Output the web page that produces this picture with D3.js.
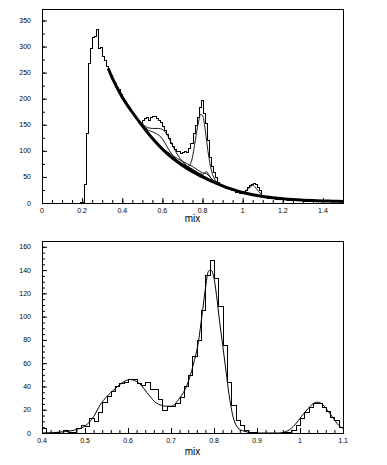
<!DOCTYPE html>
<html>
<head>
<meta charset="utf-8">
<script src="https://cdn.jsdelivr.net/npm/d3@7"></script>
<style>
  body { margin: 0; background: #fff; }
  svg { display: block; }
  text { font-family: "Liberation Sans", Arial, sans-serif; fill: #000; }
</style>
</head>
<body>
<svg id="chart" width="387" height="465"></svg>
<script>
// ---- top panel data (mix spectrum, 0.01 bins) ----
const topBinWidth = 0.01;
const topBinStart = 0.18;
const topCounts = [
  0, 1, 1, 36, 135, 269, 298, 318, 320, 333, 298, 300, 281, 275, 262,
  254, 246, 236, 231, 222, 218, 209, 201, 195, 188, 184, 176, 172, 166, 161,
  156, 152, 160, 163, 165, 160, 165, 166, 166, 163, 160, 156, 148, 140, 133,
  125, 115, 110, 103, 100, 100, 96, 97, 100, 98, 106, 115, 134, 149, 165,
  184, 197, 172, 153, 121, 89, 70, 60, 50, 41, 37, 33, 31, 29, 28,
  26, 25, 24, 22, 21, 20, 19, 21, 24, 30, 34, 37, 39, 37, 30,
  24, 16, 12, 11, 10, 10, 9, 9, 8, 8, 8, 7, 7, 7, 6,
  6, 6, 5, 5, 5, 5, 5, 4, 4, 4, 4, 4, 4, 3, 3,
  3, 3, 3, 3, 3, 3, 3, 3, 3, 3, 3, 3
];

// background curve (thick)
const bkgX = [0.33, 0.35, 0.40, 0.45, 0.50, 0.55, 0.60, 0.65, 0.70, 0.75, 0.80, 0.85, 0.90,
  0.95, 1.00, 1.05, 1.10, 1.15, 1.20, 1.25, 1.30, 1.35, 1.40, 1.45, 1.50];
const bkgY = [258, 240, 203, 174, 148, 124, 103, 86, 72, 60, 50, 41, 33,
  26, 20, 16, 12.5, 10, 8, 6.5, 5.5, 4.7, 4, 3.5, 3];

// thin component curves
const shoulderHiX = [0.40, 0.45, 0.50, 0.52, 0.55, 0.58, 0.60, 0.62, 0.64, 0.66, 0.68, 0.70, 0.72, 0.75, 0.80, 0.85];
const shoulderHiY = [204, 175, 152, 146, 143, 143, 141, 133, 119, 103, 90, 80, 72, 63, 52, 42];
const shoulderLoX = [0.40, 0.45, 0.50, 0.53, 0.57, 0.60, 0.62, 0.65, 0.68, 0.72, 0.76, 0.80, 0.85];
const shoulderLoY = [204, 175, 150, 140, 133, 123, 110, 92, 80, 70, 61, 52, 42];
const peakX = [0.65, 0.70, 0.72, 0.735, 0.75, 0.76, 0.77, 0.78, 0.79, 0.80, 0.81, 0.82, 0.83, 0.84, 0.85, 0.86, 0.88, 0.90];
const peakY = [86, 73, 69, 72, 88, 110, 135, 155, 170, 168, 150, 120, 92, 70, 55, 46, 38, 33];
const midAX = [0.55, 0.60, 0.65, 0.70, 0.75, 0.80, 0.82, 0.85, 0.90];
const midAY = [126, 106, 91, 80, 70, 58, 56, 45, 34];
const midBX = [0.55, 0.60, 0.65, 0.70, 0.75, 0.80, 0.82, 0.83, 0.85, 0.90];
const midBY = [125, 104, 88, 76, 65, 55, 60, 55, 43, 33];
const midCX = [0.55, 0.60, 0.65, 0.70, 0.75, 0.80, 0.85, 0.90];
const midCY = [124, 103, 87, 74, 63, 53, 42, 33];
const bumpX = [0.95, 1.00, 1.02, 1.04, 1.05, 1.06, 1.08, 1.10, 1.12];
const bumpY = [26, 21, 25, 31, 34, 31, 22, 14, 11];

const topXTicks = [0, 0.2, 0.4, 0.6, 0.8, 1, 1.2, 1.4];
const topYTicks = [0, 50, 100, 150, 200, 250, 300, 350];

// ---- bottom panel data (background subtracted, 0.01 bins) ----
const botBinWidth = 0.01;
const botBinStart = 0.40;
const botCounts = [
  4, 0, 0, 1, 0, 3, 1, 1, 4, 7,
  6, 13, 10, 18, 27, 32, 36, 40, 43, 44,
  46, 46, 43, 41, 44, 38, 38, 29, 20, 23,
  23, 26, 31, 40, 50, 66, 80, 106, 136, 149,
  133, 109, 76, 44, 24, 11, 7, 3, 1, 1,
  0, 0, 0, 0, 0, 0, 1, 1, 3, 7,
  13, 18, 22, 26, 26, 22, 19, 14, 11, 5
];
const fitX = [0.40, 0.45, 0.48, 0.50, 0.52, 0.535, 0.55, 0.57, 0.59, 0.605, 0.625, 0.65, 0.665, 0.69, 0.70,
  0.72, 0.737, 0.752, 0.764, 0.772, 0.78, 0.787, 0.793, 0.80, 0.806, 0.813, 0.82, 0.828, 0.835, 0.843,
  0.851, 0.866, 0.90, 0.95, 0.972, 0.988, 1.003, 1.019, 1.034, 1.042, 1.054, 1.065, 1.077, 1.089, 1.10];
const fitY = [0, 1, 3, 6, 14, 24, 31, 38, 44, 46, 43, 32, 26, 23, 23,
  30, 41, 59, 79, 101, 124, 139, 140, 133, 118, 96, 76, 53, 33, 16,
  7, 2, 0, 0, 2, 7, 14, 21, 26, 26.5, 24, 19, 13, 7, 4];

const botXTicks = [0.4, 0.5, 0.6, 0.7, 0.8, 0.9, 1, 1.1];
const botYTicks = [0, 20, 40, 60, 80, 100, 120, 140, 160];

const svg = d3.select("#chart");

function drawPanel(cfg) {
  const x = d3.scaleLinear().domain(cfg.xDomain).range([cfg.left, cfg.right]);
  const y = d3.scaleLinear().domain(cfg.yDomain).range([cfg.bottom, cfg.top]);
  const g = svg.append("g");

  // clip to frame
  const clipId = "clip" + cfg.name;
  svg.append("clipPath").attr("id", clipId)
    .append("rect")
    .attr("x", cfg.left).attr("y", cfg.top - 2)
    .attr("width", cfg.right - cfg.left).attr("height", cfg.bottom - cfg.top + 2);
  const plot = g.append("g").attr("clip-path", `url(#${clipId})`);

  // axes with inside ticks
  g.append("g").attr("transform", `translate(0,${cfg.bottom})`)
    .call(d3.axisTop(x).tickValues(cfg.xMinor).tickSize(cfg.minorLen).tickFormat(""));
  g.append("g").attr("transform", `translate(0,${cfg.bottom})`)
    .call(d3.axisTop(x).tickValues(cfg.xTicks).tickSize(cfg.majorLen).tickFormat(""));
  g.append("g").attr("transform", `translate(${cfg.left},0)`)
    .call(d3.axisRight(y).tickValues(cfg.yMinor).tickSize(cfg.minorLen).tickFormat(""));
  g.append("g").attr("transform", `translate(${cfg.left},0)`)
    .call(d3.axisRight(y).tickValues(cfg.yTicks).tickSize(cfg.majorLen).tickFormat(""));
  g.selectAll(".domain").remove();
  g.selectAll(".tick line").attr("stroke", "#000").attr("stroke-width", 1);

  // tick labels
  g.selectAll(".xlab").data(cfg.xTicks).enter().append("text")
    .attr("x", (d) => x(d)).attr("y", cfg.bottom + cfg.xLabelDy)
    .attr("text-anchor", "middle").style("font-size", "7px")
    .text((d) => d3.format("")(d));
  g.selectAll(".ylab").data(cfg.yTicks).enter().append("text")
    .attr("x", cfg.left - 11).attr("y", (d) => y(d) + 2.5)
    .attr("text-anchor", "end").style("font-size", "7px")
    .text((d) => d);

  // axis title
  g.append("text").attr("x", (cfg.left + cfg.right) / 2).attr("y", cfg.bottom + cfg.titleDy)
    .attr("text-anchor", "middle").style("font-size", "10px").text("mix");

  // frame
  g.append("rect")
    .attr("x", cfg.left + 0.5).attr("y", cfg.top + 0.5)
    .attr("width", cfg.right - cfg.left).attr("height", cfg.bottom - cfg.top)
    .attr("fill", "none").attr("stroke", "#000").attr("stroke-width", 1);

  return { x, y, plot };
}

function histPath(x, y, start, width, counts) {
  const px = (v) => Math.round(x(v)) + 0.5;
  const py = (v) => Math.round(y(v)) + 0.5;
  const pts = [[px(start), py(0)]];
  counts.forEach((c, i) => {
    pts.push([px(start + i * width), py(c)]);
    pts.push([px(start + (i + 1) * width), py(c)]);
  });
  pts.push([px(start + counts.length * width), py(0)]);
  return d3.line()(pts);
}

function smooth(x, y, xs, ys) {
  return d3.line().x((d) => x(d)).y((d, i) => y(ys[i])).curve(d3.curveMonotoneX)(xs);
}

// ---- top panel ----
const topMinor = d3.range(0, 31).map((i) => i * 0.05);
const topYMinor = d3.range(0, 15).map((i) => i * 25);
const topPanel = drawPanel({
  name: "top", left: 42, right: 343, top: 9, bottom: 203,
  xDomain: [0, 1.5], yDomain: [0, 372],
  xTicks: topXTicks, xMinor: topMinor, yTicks: topYTicks, yMinor: topYMinor,
  majorLen: 5, minorLen: 3, xLabelDy: 9.5, titleDy: 19
});

const thinCurves = [
  [shoulderHiX, shoulderHiY], [shoulderLoX, shoulderLoY], [peakX, peakY],
  [midAX, midAY], [midBX, midBY], [midCX, midCY], [bumpX, bumpY]
];
thinCurves.forEach(([xs, ys]) => {
  topPanel.plot.append("path").attr("d", smooth(topPanel.x, topPanel.y, xs, ys))
    .attr("fill", "none").attr("stroke", "#000").attr("stroke-width", 0.9);
});
topPanel.plot.append("path").attr("d", smooth(topPanel.x, topPanel.y, bkgX, bkgY))
  .attr("fill", "none").attr("stroke", "#000").attr("stroke-width", 3);
topPanel.plot.append("path")
  .attr("d", histPath(topPanel.x, topPanel.y, topBinStart, topBinWidth, topCounts))
  .attr("fill", "none").attr("stroke", "#000").attr("stroke-width", 1.2)
  .attr("shape-rendering", "crispEdges");

// ---- bottom panel ----
const botMinor = d3.range(0, 36).map((i) => 0.4 + i * 0.02);
const botYMinor = d3.range(0, 34).map((i) => i * 5);
const botPanel = drawPanel({
  name: "bot", left: 42, right: 343, top: 241, bottom: 433,
  xDomain: [0.4, 1.1], yDomain: [0, 165],
  xTicks: botXTicks, xMinor: botMinor, yTicks: botYTicks, yMinor: botYMinor,
  majorLen: 5, minorLen: 3, xLabelDy: 10, titleDy: 22
});
botPanel.plot.append("path").attr("d", smooth(botPanel.x, botPanel.y, fitX, fitY))
  .attr("fill", "none").attr("stroke", "#000").attr("stroke-width", 1);
botPanel.plot.append("path")
  .attr("d", histPath(botPanel.x, botPanel.y, botBinStart, botBinWidth, botCounts))
  .attr("fill", "none").attr("stroke", "#000").attr("stroke-width", 1.2)
  .attr("shape-rendering", "crispEdges");
</script>
</body>
</html>
